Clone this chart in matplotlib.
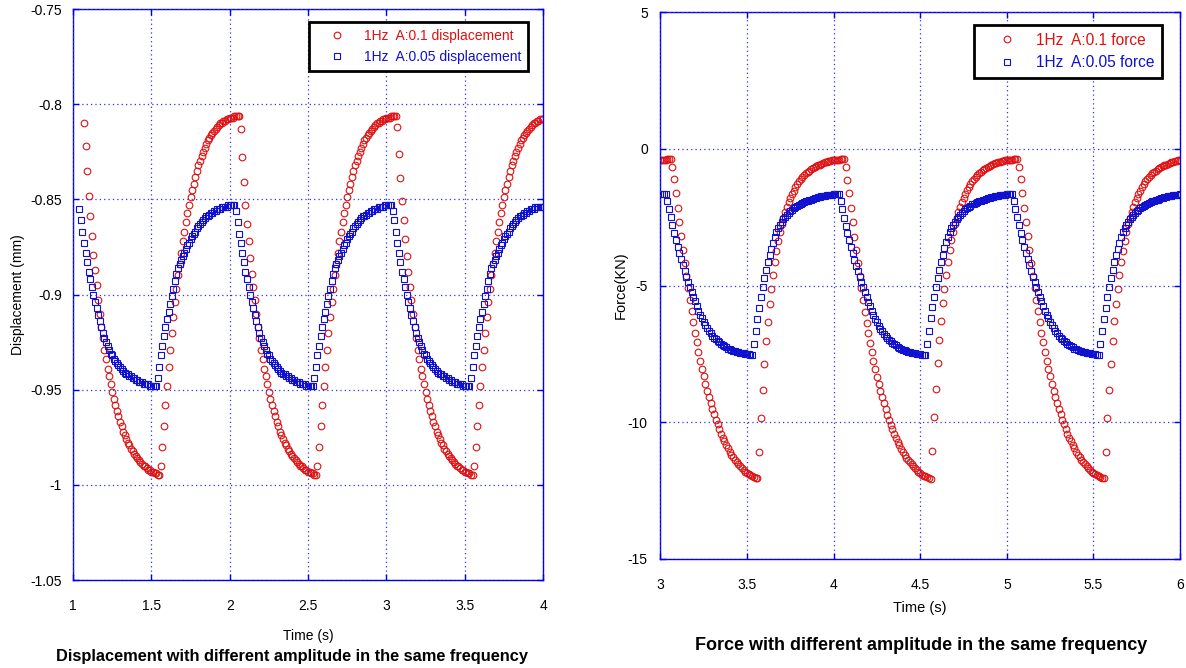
import numpy as np
import matplotlib
matplotlib.use('Agg')
import matplotlib.pyplot as plt

plt.rcParams['font.family'] = ['Liberation Sans', 'DejaVu Sans']
plt.rcParams['axes.unicode_minus'] = False

# sampling interval (s) and first sample time of each series
DT = 0.01
T0_DISP_RED = 1.07
T0_DISP_BLUE = 1.04
T0_FORCE = 3.00

# displacement (mm), 1Hz A:0.1
disp_red = [
    -0.810, -0.822, -0.835, -0.848, -0.859, -0.869, -0.879, -0.887, -0.895, -0.903,
    -0.910, -0.917, -0.923, -0.929, -0.934, -0.939, -0.943, -0.947, -0.951, -0.955,
    -0.958, -0.961, -0.964, -0.967, -0.969, -0.972, -0.974, -0.976, -0.978, -0.979,
    -0.981, -0.982, -0.984, -0.985, -0.986, -0.987, -0.988, -0.989, -0.990, -0.990,
    -0.991, -0.992, -0.992, -0.993, -0.993, -0.994, -0.994, -0.995, -0.995,
    -0.990, -0.980, -0.969, -0.958, -0.948, -0.938, -0.929, -0.920, -0.912, -0.904,
    -0.897, -0.890, -0.884, -0.878, -0.872, -0.867, -0.862, -0.857, -0.853, -0.849,
    -0.845, -0.842, -0.838, -0.835, -0.832, -0.830, -0.827, -0.825, -0.823, -0.821,
    -0.819, -0.818, -0.816, -0.815, -0.814, -0.813, -0.812, -0.811, -0.810, -0.810,
    -0.809, -0.809, -0.808, -0.808, -0.807, -0.807, -0.807, -0.806, -0.806, -0.806,
    -0.806,
    -0.813, -0.828, -0.841, -0.853, -0.863, -0.872, -0.881, -0.889, -0.896, -0.903,
    -0.910, -0.917, -0.923, -0.929, -0.934, -0.939, -0.943, -0.947, -0.951, -0.955,
    -0.958, -0.961, -0.964, -0.967, -0.969, -0.972, -0.974, -0.976, -0.978, -0.979,
    -0.981, -0.982, -0.984, -0.985, -0.986, -0.987, -0.988, -0.989, -0.990, -0.990,
    -0.991, -0.992, -0.992, -0.993, -0.993, -0.994, -0.994, -0.995, -0.995,
    -0.990, -0.980, -0.969, -0.958, -0.948, -0.938, -0.929, -0.920, -0.912, -0.904,
    -0.897, -0.890, -0.884, -0.878, -0.872, -0.867, -0.862, -0.857, -0.853, -0.849,
    -0.845, -0.842, -0.838, -0.835, -0.832, -0.830, -0.827, -0.825, -0.823, -0.821,
    -0.819, -0.818, -0.816, -0.815, -0.814, -0.813, -0.812, -0.811, -0.810, -0.810,
    -0.809, -0.809, -0.808, -0.808, -0.807, -0.807, -0.807, -0.806, -0.806, -0.806,
    -0.806,
    -0.812, -0.826, -0.839, -0.851, -0.861, -0.871, -0.880, -0.888, -0.896, -0.903,
    -0.910, -0.917, -0.923, -0.929, -0.934, -0.939, -0.943, -0.947, -0.951, -0.955,
    -0.958, -0.961, -0.964, -0.967, -0.969, -0.972, -0.974, -0.976, -0.978, -0.979,
    -0.981, -0.982, -0.984, -0.985, -0.986, -0.987, -0.988, -0.989, -0.990, -0.990,
    -0.991, -0.992, -0.992, -0.993, -0.993, -0.994, -0.994, -0.995, -0.995,
    -0.990, -0.980, -0.969, -0.958, -0.948, -0.938, -0.929, -0.920, -0.912, -0.904,
    -0.897, -0.890, -0.884, -0.878, -0.872, -0.867, -0.862, -0.857, -0.853, -0.849,
    -0.845, -0.842, -0.838, -0.835, -0.832, -0.830, -0.827, -0.825, -0.823, -0.821,
    -0.819, -0.818, -0.816, -0.815, -0.814, -0.813, -0.812, -0.811, -0.810, -0.810,
    -0.809, -0.809, -0.808, -0.808, -0.808,
]

# displacement (mm), 1Hz A:0.05
disp_blue = [
    -0.855, -0.861, -0.867, -0.873, -0.878, -0.883, -0.888, -0.892, -0.896, -0.900,
    -0.904, -0.907, -0.911, -0.914, -0.917, -0.920, -0.923, -0.925, -0.927, -0.929,
    -0.931, -0.932, -0.934, -0.935, -0.936, -0.937, -0.938, -0.939, -0.940, -0.941,
    -0.942, -0.942, -0.943, -0.943, -0.944, -0.944, -0.945, -0.945, -0.946, -0.946,
    -0.946, -0.947, -0.947, -0.947, -0.947, -0.948, -0.948, -0.948, -0.948, -0.948,
    -0.944, -0.938, -0.932, -0.927, -0.922, -0.917, -0.913, -0.909, -0.905, -0.901,
    -0.897, -0.893, -0.889, -0.886, -0.884, -0.882, -0.880, -0.878, -0.876, -0.874,
    -0.873, -0.871, -0.869, -0.868, -0.867, -0.865, -0.864, -0.863, -0.862, -0.861,
    -0.860, -0.859, -0.859, -0.858, -0.857, -0.857, -0.856, -0.856, -0.855, -0.855,
    -0.855, -0.854, -0.854, -0.854, -0.854, -0.853, -0.853, -0.853, -0.853, -0.853,
    -0.856, -0.862, -0.868, -0.873, -0.878, -0.883, -0.888, -0.892, -0.896, -0.900,
    -0.904, -0.907, -0.911, -0.914, -0.917, -0.920, -0.923, -0.925, -0.927, -0.929,
    -0.931, -0.932, -0.934, -0.935, -0.936, -0.937, -0.938, -0.939, -0.940, -0.941,
    -0.942, -0.942, -0.943, -0.943, -0.944, -0.944, -0.945, -0.945, -0.946, -0.946,
    -0.946, -0.947, -0.947, -0.947, -0.947, -0.948, -0.948, -0.948, -0.948, -0.948,
    -0.944, -0.938, -0.932, -0.927, -0.922, -0.917, -0.913, -0.909, -0.905, -0.901,
    -0.897, -0.893, -0.889, -0.886, -0.884, -0.882, -0.880, -0.878, -0.876, -0.874,
    -0.873, -0.871, -0.869, -0.868, -0.867, -0.865, -0.864, -0.863, -0.862, -0.861,
    -0.860, -0.859, -0.859, -0.858, -0.857, -0.857, -0.856, -0.856, -0.855, -0.855,
    -0.855, -0.854, -0.854, -0.854, -0.854, -0.853, -0.853, -0.853, -0.853, -0.853,
    -0.856, -0.861, -0.867, -0.873, -0.878, -0.883, -0.888, -0.892, -0.896, -0.900,
    -0.904, -0.907, -0.911, -0.914, -0.917, -0.920, -0.923, -0.925, -0.927, -0.929,
    -0.931, -0.932, -0.934, -0.935, -0.936, -0.937, -0.938, -0.939, -0.940, -0.941,
    -0.942, -0.942, -0.943, -0.943, -0.944, -0.944, -0.945, -0.945, -0.946, -0.946,
    -0.946, -0.947, -0.947, -0.947, -0.947, -0.948, -0.948, -0.948, -0.948, -0.948,
    -0.944, -0.938, -0.932, -0.927, -0.922, -0.917, -0.913, -0.909, -0.905, -0.901,
    -0.897, -0.893, -0.889, -0.886, -0.884, -0.882, -0.880, -0.878, -0.876, -0.874,
    -0.873, -0.871, -0.869, -0.868, -0.867, -0.865, -0.864, -0.863, -0.862, -0.861,
    -0.860, -0.859, -0.859, -0.858, -0.857, -0.857, -0.856, -0.856, -0.855, -0.855,
    -0.855, -0.854, -0.854, -0.854, -0.854, -0.854, -0.854,
]

# force (KN), 1Hz A:0.1
force_red = [
    -0.41, -0.40, -0.39, -0.39, -0.38, -0.38, -0.37,
    -0.65, -1.10, -1.60, -2.15, -2.68, -3.20, -3.70, -4.18, -4.64, -5.08,
    -5.52, -5.94, -6.34, -6.72, -7.08, -7.42, -7.74, -8.04, -8.32, -8.59,
    -8.84, -9.08, -9.30, -9.51, -9.71, -9.90, -10.08, -10.25, -10.41, -10.56,
    -10.70, -10.83, -10.95, -11.07, -11.18, -11.28, -11.37, -11.45, -11.53, -11.60,
    -11.67, -11.74, -11.80, -11.85, -11.90, -11.94, -11.97, -12.00, -12.03, -12.05,
    -11.10, -9.86, -8.82, -7.87, -7.03, -6.32, -5.67, -5.13, -4.62, -4.14,
    -3.72, -3.35, -3.04, -2.76, -2.53, -2.32, -2.12, -1.95, -1.80, -1.66,
    -1.52, -1.40, -1.29, -1.19, -1.10, -1.02, -0.95, -0.89, -0.84, -0.79,
    -0.75, -0.70, -0.66, -0.63, -0.60, -0.57, -0.54, -0.51, -0.49, -0.47,
    -0.45, -0.44, -0.42,
    -0.41, -0.40, -0.39, -0.39, -0.38, -0.38, -0.37,
    -0.66, -1.12, -1.62, -2.16, -2.69, -3.21, -3.71, -4.19, -4.65, -5.09,
    -5.53, -5.95, -6.35, -6.73, -7.09, -7.43, -7.75, -8.05, -8.33, -8.60,
    -8.85, -9.09, -9.31, -9.52, -9.72, -9.91, -10.09, -10.26, -10.42, -10.57,
    -10.71, -10.84, -10.96, -11.08, -11.19, -11.29, -11.38, -11.46, -11.54, -11.61,
    -11.68, -11.75, -11.81, -11.86, -11.91, -11.95, -11.98, -12.01, -12.04, -12.06,
    -11.05, -9.80, -8.78, -7.84, -7.00, -6.30, -5.65, -5.11, -4.60, -4.13,
    -3.71, -3.34, -3.03, -2.75, -2.52, -2.31, -2.11, -1.94, -1.79, -1.65,
    -1.51, -1.39, -1.28, -1.18, -1.09, -1.01, -0.94, -0.88, -0.83, -0.78,
    -0.74, -0.70, -0.66, -0.62, -0.59, -0.56, -0.53, -0.51, -0.49, -0.47,
    -0.45, -0.43, -0.42,
    -0.41, -0.40, -0.39, -0.39, -0.38, -0.38, -0.37,
    -0.65, -1.11, -1.61, -2.15, -2.68, -3.20, -3.70, -4.18, -4.64, -5.08,
    -5.52, -5.94, -6.34, -6.72, -7.08, -7.42, -7.74, -8.04, -8.32, -8.59,
    -8.84, -9.08, -9.30, -9.51, -9.71, -9.90, -10.08, -10.25, -10.41, -10.56,
    -10.70, -10.83, -10.95, -11.07, -11.18, -11.28, -11.37, -11.45, -11.53, -11.60,
    -11.67, -11.74, -11.80, -11.85, -11.90, -11.94, -11.97, -12.00, -12.03, -12.05,
    -11.08, -9.84, -8.80, -7.86, -7.02, -6.31, -5.66, -5.12, -4.61, -4.14,
    -3.72, -3.35, -3.04, -2.76, -2.53, -2.32, -2.12, -1.95, -1.80, -1.66,
    -1.52, -1.40, -1.29, -1.19, -1.10, -1.02, -0.95, -0.89, -0.84, -0.79,
    -0.75, -0.70, -0.66, -0.63, -0.60, -0.57, -0.54, -0.51, -0.49, -0.47,
    -0.45, -0.44, -0.42, -0.41,
]

# force (KN), 1Hz A:0.05
force_blue = [
    -1.66, -1.65, -1.65, -1.65,
    -1.90, -2.20, -2.50, -2.79, -3.06, -3.32, -3.57, -3.81, -4.04, -4.26,
    -4.47, -4.67, -4.86, -5.04, -5.22, -5.40, -5.58, -5.75, -5.91, -6.06,
    -6.20, -6.33, -6.45, -6.56, -6.66, -6.75, -6.83, -6.90, -6.97, -7.03,
    -7.08, -7.13, -7.18, -7.22, -7.26, -7.30, -7.33, -7.36, -7.38, -7.40,
    -7.42, -7.44, -7.46, -7.47, -7.48, -7.49, -7.50, -7.51, -7.52, -7.53,
    -7.13, -6.66, -6.21, -5.80, -5.41, -5.05, -4.73, -4.43, -4.15, -3.89,
    -3.65, -3.43, -3.23, -3.05, -2.90, -2.78, -2.67, -2.57, -2.49, -2.41,
    -2.34, -2.28, -2.22, -2.17, -2.12, -2.08, -2.04, -2.00, -1.97, -1.94,
    -1.91, -1.89, -1.87, -1.85, -1.82, -1.80, -1.78, -1.76, -1.75, -1.73,
    -1.72, -1.71, -1.70, -1.69, -1.68, -1.67,
    -1.66, -1.65, -1.65, -1.65,
    -1.91, -2.21, -2.51, -2.80, -3.07, -3.33, -3.58, -3.82, -4.05, -4.27,
    -4.48, -4.68, -4.87, -5.05, -5.23, -5.41, -5.59, -5.76, -5.92, -6.07,
    -6.21, -6.34, -6.46, -6.57, -6.67, -6.76, -6.84, -6.91, -6.98, -7.04,
    -7.09, -7.14, -7.19, -7.23, -7.27, -7.31, -7.34, -7.37, -7.39, -7.41,
    -7.43, -7.45, -7.47, -7.48, -7.49, -7.50, -7.51, -7.52, -7.53, -7.54,
    -7.12, -6.65, -6.20, -5.79, -5.40, -5.04, -4.72, -4.42, -4.14, -3.88,
    -3.64, -3.42, -3.22, -3.04, -2.89, -2.77, -2.66, -2.56, -2.48, -2.40,
    -2.33, -2.27, -2.21, -2.16, -2.11, -2.07, -2.03, -2.00, -1.97, -1.94,
    -1.91, -1.89, -1.87, -1.85, -1.82, -1.80, -1.78, -1.76, -1.75, -1.73,
    -1.72, -1.71, -1.70, -1.69, -1.68, -1.67,
    -1.66, -1.65, -1.65, -1.65,
    -1.90, -2.20, -2.50, -2.79, -3.06, -3.32, -3.57, -3.81, -4.04, -4.26,
    -4.47, -4.67, -4.86, -5.04, -5.22, -5.40, -5.58, -5.75, -5.91, -6.06,
    -6.20, -6.33, -6.45, -6.56, -6.66, -6.75, -6.83, -6.90, -6.97, -7.03,
    -7.08, -7.13, -7.18, -7.22, -7.26, -7.30, -7.33, -7.36, -7.38, -7.40,
    -7.42, -7.44, -7.46, -7.47, -7.48, -7.49, -7.50, -7.51, -7.52, -7.53,
    -7.13, -6.66, -6.21, -5.80, -5.41, -5.05, -4.73, -4.43, -4.15, -3.89,
    -3.65, -3.43, -3.23, -3.05, -2.90, -2.78, -2.67, -2.57, -2.49, -2.41,
    -2.34, -2.28, -2.22, -2.17, -2.12, -2.08, -2.04, -2.00, -1.97, -1.94,
    -1.91, -1.89, -1.87, -1.85, -1.82, -1.80, -1.78, -1.76, -1.75, -1.73,
    -1.72, -1.71, -1.70, -1.69, -1.68, -1.67, -1.66,
]

disp_xticks = [1, 1.5, 2, 2.5, 3, 3.5, 4]
disp_yticks = [-1.05, -1, -0.95, -0.9, -0.85, -0.8, -0.75]
disp_yticklabels = ['-1.05', '-1', '-0.95', '-0.9', '-0.85', '-0.8', '-0.75']
force_xticks = [3, 3.5, 4, 4.5, 5, 5.5, 6]
force_yticks = [-15, -10, -5, 0, 5]

RED = '#e01010'
BLUE = '#1010d0'
AXBLUE = '#0000f0'
GRIDBLUE = '#3030f0'


def times(t0, n):
    return np.round(t0 + DT * np.arange(n), 3)


def style_axes(ax, xpad, ypad):
    for sp in ax.spines.values():
        sp.set_color(AXBLUE)
        sp.set_linewidth(1.0)
    ax.tick_params(direction='in', length=4, width=1, color=AXBLUE,
                   top=True, right=True, labelsize=10, labelcolor='black')
    ax.tick_params(axis='x', pad=xpad)
    ax.tick_params(axis='y', pad=ypad)
    ax.grid(True, color=GRIDBLUE, linestyle=(0, (1, 2.5)), linewidth=0.9)
    ax.set_axisbelow(False)


fig = plt.figure(figsize=(11.86, 6.68), dpi=100)

# ---- displacement ----
ax1 = fig.add_axes([0.0616, 0.1317, 0.3963, 0.8548])
ax1.plot(times(T0_DISP_RED, len(disp_red)), disp_red, 'o', mfc='none', mec=RED,
         ms=4.8, mew=0.8, label='1Hz  A:0.1 displacement')
ax1.plot(times(T0_DISP_BLUE, len(disp_blue)), disp_blue, 's', mfc='none', mec=BLUE,
         ms=5.0, mew=0.8, label='1Hz  A:0.05 displacement')
ax1.set_xlim(1, 4)
ax1.set_ylim(-1.05, -0.75)
ax1.set_xticks(disp_xticks)
ax1.set_xticklabels(['1', '1.5', '2', '2.5', '3', '3.5', '4'])
ax1.set_yticks(disp_yticks)
ax1.set_yticklabels(disp_yticklabels)
style_axes(ax1, 14, 8)
ax1.set_xlabel('Time (s)', fontsize=10)
ax1.xaxis.set_label_coords(0.5, -0.085)
ax1.set_ylabel('Displacement (mm)', fontsize=10)
ax1.yaxis.set_label_coords(-0.102, 0.5)
leg1 = ax1.legend(loc='upper right', bbox_to_anchor=(0.968, 0.977), fontsize=10,
                  labelcolor='markeredgecolor', fancybox=False, framealpha=1,
                  edgecolor='black', handlelength=3.0, handletextpad=0.45,
                  borderpad=0.5, labelspacing=0.5, borderaxespad=0)
leg1.get_frame().set_linewidth(2)

# ---- force ----
ax2 = fig.add_axes([0.5568, 0.1632, 0.4382, 0.8184])
ax2.plot(times(T0_FORCE, len(force_red)), force_red, 'o', mfc='none', mec=RED,
         ms=4.8, mew=0.8, label='1Hz  A:0.1 force')
ax2.plot(times(T0_FORCE, len(force_blue)), force_blue, 's', mfc='none', mec=BLUE,
         ms=5.0, mew=0.8, label='1Hz  A:0.05 force')
ax2.set_xlim(3, 6)
ax2.set_ylim(-15, 5)
ax2.set_xticks(force_xticks)
ax2.set_xticklabels(['3', '3.5', '4', '4.5', '5', '5.5', '6'])
ax2.set_yticks(force_yticks)
style_axes(ax2, 14, 9)
ax2.set_xlabel('Time (s)', fontsize=10.5)
ax2.xaxis.set_label_coords(0.5, -0.077)
ax2.set_ylabel('Force(KN)', fontsize=10.5)
ax2.yaxis.set_label_coords(-0.062, 0.5)
leg2 = ax2.legend(loc='upper right', bbox_to_anchor=(0.965, 0.977), fontsize=11.2,
                  labelcolor='markeredgecolor', fancybox=False, framealpha=1,
                  edgecolor='black', handlelength=3.2, handletextpad=0.25,
                  borderpad=0.5, labelspacing=0.5, borderaxespad=0)
leg2.get_frame().set_linewidth(2)

fig.text(0.246, 0.0165, 'Displacement with different amplitude in the same frequency',
         ha='center', va='center', fontsize=11.8, fontweight='bold')
fig.text(0.7766, 0.033, 'Force with different amplitude in the same frequency',
         ha='center', va='center', fontsize=13, fontweight='bold')

fig.savefig('out.png', dpi=100)
